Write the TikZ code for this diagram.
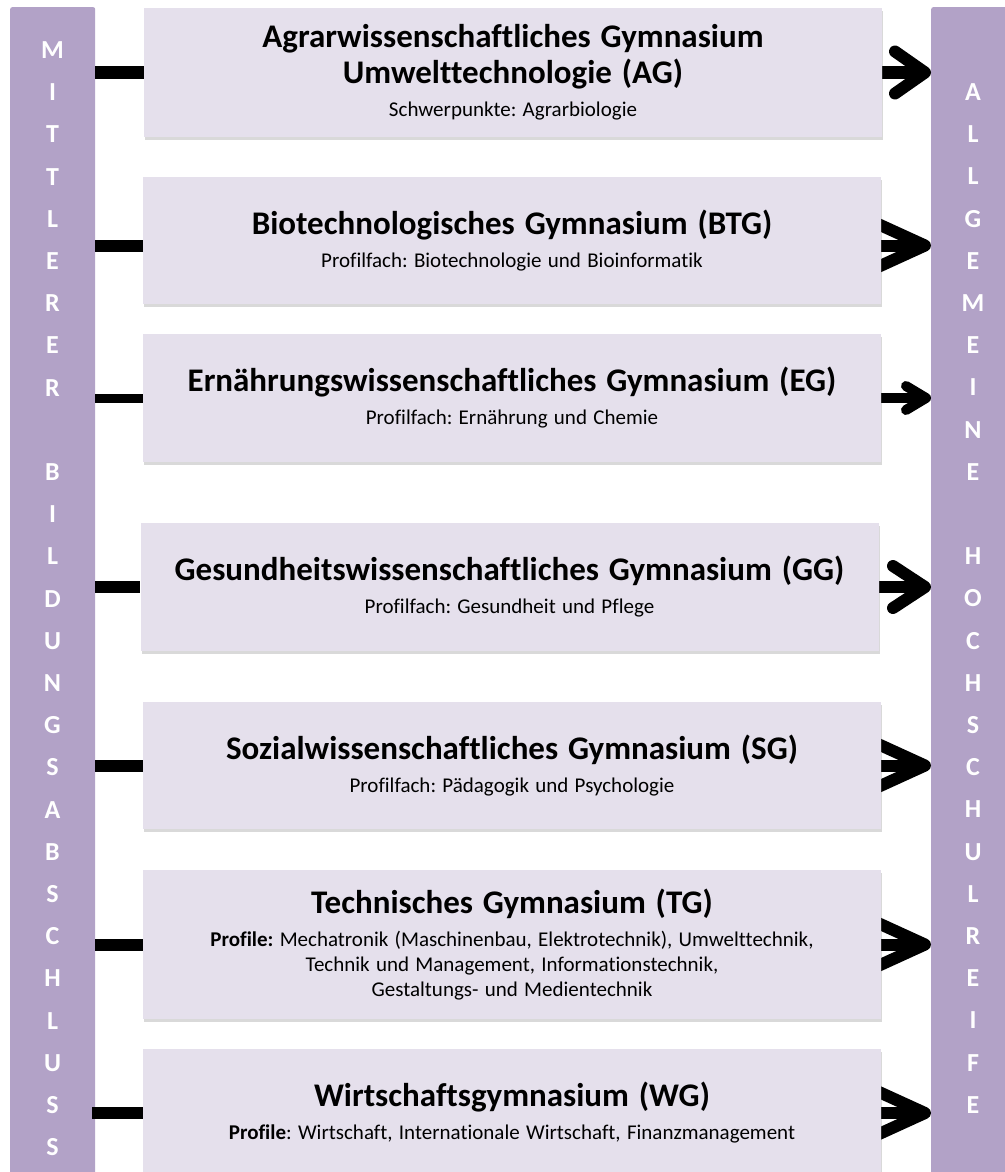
\documentclass[tikz,border=0pt]{standalone}
\usepackage{fontspec}
\setmainfont{Carlito}[Ligatures=NoCommon]
\usetikzlibrary{arrows.meta,backgrounds,shadows}

\definecolor{barfill}{HTML}{B2A2C7}
\definecolor{boxfill}{HTML}{E5E0EC}

\frenchspacing
\newcommand{\progtitle}{\fontsize{33}{36}\selectfont\bfseries\spaceskip=.3em\relax}
\newcommand{\progsub}{\fontsize{21}{25}\selectfont\spaceskip=.3em\relax}
\newcommand{\progtext}[2]{{\progtitle #1\par}\vspace{8pt}{\progsub #2\par}}

\tikzset{
  prog/.style={fill=boxfill, minimum width=738pt, text width=720pt, align=center, inner sep=0pt,
    drop shadow={shadow xshift=1pt, shadow yshift=-3pt, opacity=.3}},
  sidebar/.style={fill=barfill, rounded corners=2pt, anchor=north west, inner sep=0pt},
  barletters/.style={text=white, font=\fontsize{26}{42.2}\selectfont\bfseries, align=center, inner sep=0pt, anchor=north},
  link/.style={line width=12pt},
  tobar/.style={line width=12pt, -{Straight Barb[round, length=#1, width=42pt]}},
}

\begin{document}
\begin{tikzpicture}[x=1pt, y=-1pt]

    \useasboundingbox (0,0) rectangle (1004,1172);

    % the seven gymnasium types
    \node[prog, minimum height=129pt] (ag) at (513,72.5)
      {\progtext{Agrarwissenschaftliches Gymnasium\\Umwelttechnologie (AG)}{Schwerpunkte: Agrarbiologie}};
    \node[prog, minimum height=127pt] (btg) at (512,240.5)
      {\progtext{Biotechnologisches Gymnasium (BTG)}{Profilfach: Biotechnologie und Bioinformatik}};
    \node[prog, minimum height=128pt] (eg) at (512,398)
      {\progtext{Ernährungswissenschaftliches Gymnasium (EG)}{Profilfach: Ernährung und Chemie}};
    \node[prog, minimum height=128pt] (gg) at (509.5,587)
      {\progtext{Gesundheitswissenschaftliches Gymnasium (GG)}{Profilfach: Gesundheit und Pflege}};
    \node[prog, minimum height=127pt] (sg) at (512,765.5)
      {\progtext{Sozialwissenschaftliches Gymnasium (SG)}{Profilfach: Pädagogik und Psychologie}};
    \node[prog, minimum height=149pt] (tg) at (512,944.5)
      {\progtext{Technisches Gymnasium (TG)}{\textbf{Profile:} Mechatronik (Maschinenbau, Elektrotechnik), Umwelttechnik,\\
        Technik und Management, Informationstechnik,\\ Gestaltungs- und Medientechnik}};
    \node[prog, minimum height=128pt] (wg) at (512,1113)
      {\progtext{Wirtschaftsgymnasium (WG)}{\textbf{Profile}: Wirtschaft, Internationale Wirtschaft, Finanzmanagement}};

    \coordinate (btgin) at ([yshift=-5pt]btg.west);
    \coordinate (btgout) at ([yshift=-5pt]btg.east);

    \begin{pgfonlayer}{background}
      % side bars
      \node[sidebar, minimum width=85pt, minimum height=1180pt] (leftbar) at (10,7) {};
      \node[sidebar, minimum width=90pt, minimum height=1180pt] (rightbar) at (931,7) {};
      \node[barletters] (mba) at (52.5,41.5)
        {M\\I\\T\\T\\L\\E\\R\\E\\R\\\mbox{}\\B\\I\\L\\D\\U\\N\\G\\S\\A\\B\\S\\C\\H\\L\\U\\S\\S};
      \node[barletters] (ahr) at (973,83.5)
        {A\\L\\L\\G\\E\\M\\E\\I\\N\\E\\\mbox{}\\H\\O\\C\\H\\S\\C\\H\\U\\L\\R\\E\\I\\F\\E};

      % links from the left bar
      \draw[link] (leftbar.east |- ag.west) -- (ag.west);
      \draw[link] (leftbar.east |- btgin) -- (btgin);
      \draw[link, line width=9pt] (leftbar.east |- eg.west) -- (eg.west);
      \draw[link] (leftbar.east |- gg.west) -- (gg.west);
      \draw[link] (leftbar.east |- sg.west) -- (sg.west);
      \draw[link] (leftbar.east |- tg.west) -- (tg.west);
      \draw[link] ([xshift=-3pt]leftbar.east |- wg.west) -- (wg.west);

      % arrows into the right bar
      \draw[tobar=30pt] (ag.east) -- (rightbar.west |- ag.east);
      \draw[tobar=46pt] (btgout) -- (rightbar.west |- btgout);
      \draw[line width=10pt, -{Straight Barb[round, length=20pt, width=24pt]}] (eg.east) -- (rightbar.west |- eg.east);
      \draw[tobar=32pt] (gg.east) -- (rightbar.west |- gg.east);
      \draw[tobar=46pt] (sg.east) -- (rightbar.west |- sg.east);
      \draw[tobar=46pt] (tg.east) -- (rightbar.west |- tg.east);
      \draw[tobar=46pt] (wg.east) -- (rightbar.west |- wg.east);
    \end{pgfonlayer}

\end{tikzpicture}
\end{document}
